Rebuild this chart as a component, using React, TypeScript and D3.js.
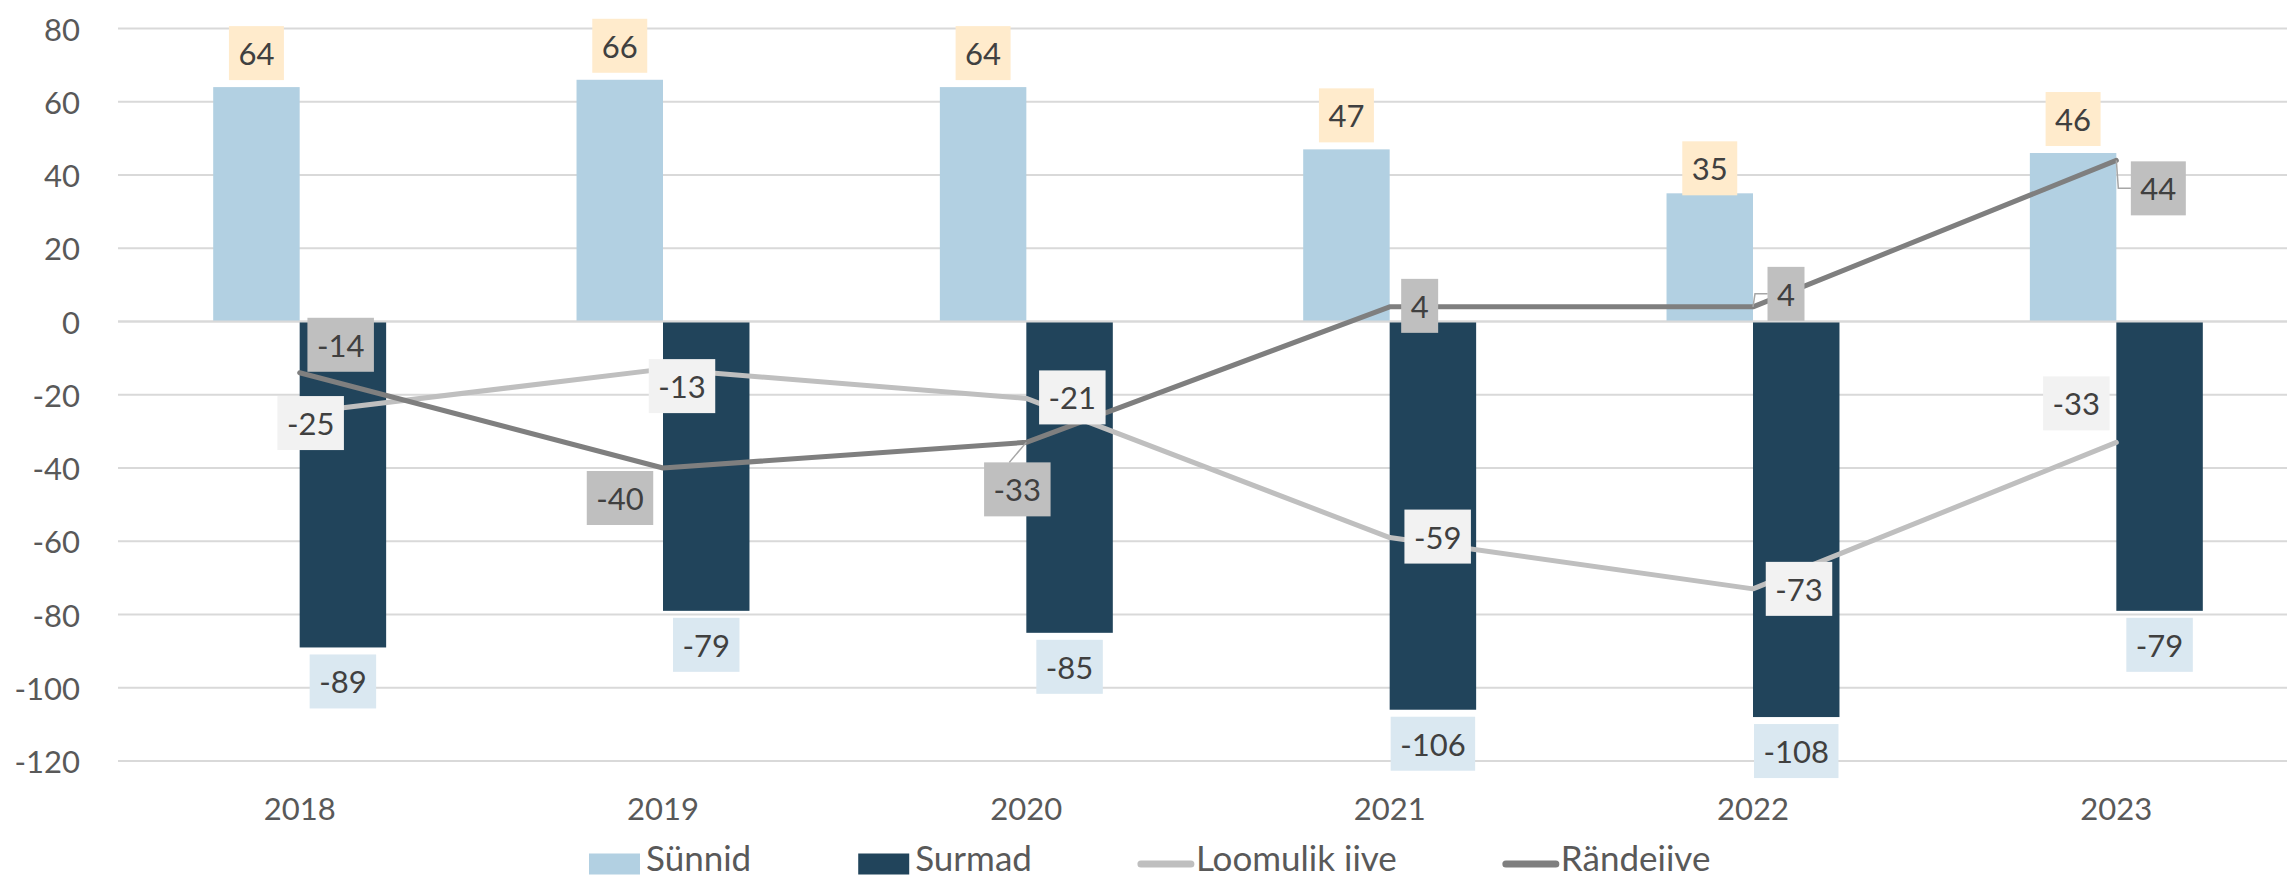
import React, { useEffect, useRef } from 'react';
import * as d3 from 'd3';

// Chart data
const years = ['2018', '2019', '2020', '2021', '2022', '2023'];
const births = [64, 66, 64, 47, 35, 46];
const deaths = [-89, -79, -85, -106, -108, -79];
const naturalChange = [-25, -13, -21, -59, -73, -33];
const migration = [-14, -40, -33, 4, 4, 44];
const yTicks = [80, 60, 40, 20, 0, -20, -40, -60, -80, -100, -120];

// Manual label nudges (box centre relative to the point), like in the original sheet
const birthsNudge = [0, 0, 0, 0, 9, 0];
const naturalOffset = [[11, 10], [19, 17], [46, -1], [48, -1], [46, 0], [-40, -39]];
const migrationOffset = [[41, -28], [-43, 30], [-9, 47], [30, -1], [33, -13], [42, 28]];
const migrationLeader = [false, false, true, false, true, true];

const W = 2287;
const H = 879;
const FONT = "Lato, 'Noto Sans', sans-serif";

const COLORS = {
  births: '#B2D0E2',
  deaths: '#21445B',
  natural: '#BFBFBF',
  migration: '#7F7F7F',
  birthsLabel: '#FFEBCC',
  deathsLabel: '#DAE8F1',
  naturalLabel: '#F2F2F2',
  migrationLabel: '#BFBFBF',
  grid: '#D9D9D9',
  text: '#404040',
  axisText: '#595959',
};

export default function App() {
  const svgRef = useRef<SVGSVGElement>(null);

  useEffect(() => {
    if (!svgRef.current) return;
    const svg = d3.select(svgRef.current);
    svg.selectAll('*').remove();

    const x = d3.scaleBand<string>().domain(years).range([118, 2298]);
    const y = d3.scaleLinear().domain([-120, 80]).range([761, 28.5]);
    const barW = x.bandwidth() * 0.238;
    const cx = (yr: string) => (x(yr) as number) + x.bandwidth() / 2;

    // gridlines
    svg.append('g')
      .selectAll('line')
      .data(yTicks)
      .join('line')
      .attr('x1', 118)
      .attr('x2', W)
      .attr('y1', d => y(d))
      .attr('y2', d => y(d))
      .attr('stroke', COLORS.grid)
      .attr('stroke-width', 2);

    // y tick labels
    svg.append('g')
      .selectAll('text')
      .data(yTicks)
      .join('text')
      .attr('x', 80)
      .attr('y', d => y(d))
      .attr('text-anchor', 'end')
      .attr('dominant-baseline', 'central')
      .attr('font-family', FONT)
      .attr('font-size', 31)
      .attr('fill', COLORS.axisText)
      .text(d => d);

    // x labels
    svg.append('g')
      .selectAll('text')
      .data(years)
      .join('text')
      .attr('x', d => cx(d))
      .attr('y', 808)
      .attr('text-anchor', 'middle')
      .attr('dominant-baseline', 'central')
      .attr('font-family', FONT)
      .attr('font-size', 31)
      .attr('fill', COLORS.axisText)
      .text(d => d);

    // bars
    svg.append('g')
      .selectAll('rect')
      .data(births)
      .join('rect')
      .attr('x', (d, i) => cx(years[i]) - barW)
      .attr('y', d => y(d))
      .attr('width', barW)
      .attr('height', d => y(0) - y(d))
      .attr('fill', COLORS.births);

    svg.append('g')
      .selectAll('rect')
      .data(deaths)
      .join('rect')
      .attr('x', (d, i) => cx(years[i]))
      .attr('y', y(0))
      .attr('width', barW)
      .attr('height', d => y(d) - y(0))
      .attr('fill', COLORS.deaths);

    // zero axis line
    svg.append('line')
      .attr('x1', 118)
      .attr('x2', W)
      .attr('y1', y(0))
      .attr('y2', y(0))
      .attr('stroke', COLORS.grid)
      .attr('stroke-width', 2);

    // lines
    const line = d3.line<number>()
      .x((d, i) => cx(years[i]))
      .y(d => y(d));

    svg.append('path')
      .datum(naturalChange)
      .attr('d', line)
      .attr('fill', 'none')
      .attr('stroke', COLORS.natural)
      .attr('stroke-width', 5)
      .attr('stroke-linejoin', 'round')
      .attr('stroke-linecap', 'round');

    svg.append('path')
      .datum(migration)
      .attr('d', line)
      .attr('fill', 'none')
      .attr('stroke', COLORS.migration)
      .attr('stroke-width', 5)
      .attr('stroke-linejoin', 'round')
      .attr('stroke-linecap', 'round');

    // label helper: box centred at (bx, by)
    const labels = svg.append('g');
    const addLabel = (bx: number, by: number, value: number, fill: string) => {
      const g = labels.append('g');
      const rect = g.append('rect').attr('fill', fill);
      const t = g.append('text')
        .attr('x', bx)
        .attr('y', by)
        .attr('text-anchor', 'middle')
        .attr('dominant-baseline', 'central')
        .attr('font-family', FONT)
        .attr('font-size', 31)
        .attr('fill', COLORS.text)
        .text(value);
      const tw = (t.node() as SVGTextElement).getComputedTextLength();
      const bw = tw + 19;
      const bh = 54;
      rect.attr('x', bx - bw / 2).attr('y', by - bh / 2).attr('width', bw).attr('height', bh);
      return { w: bw, h: bh };
    };

    // leader lines for nudged migration labels
    const leaders = svg.append('g');

    births.forEach((v, i) => {
      addLabel(cx(years[i]) - barW / 2, y(v) - 7 - 27 + birthsNudge[i], v, COLORS.birthsLabel);
    });
    deaths.forEach((v, i) => {
      addLabel(cx(years[i]) + barW / 2, y(v) + 7 + 27, v, COLORS.deathsLabel);
    });
    naturalChange.forEach((v, i) => {
      const [dx, dy] = naturalOffset[i];
      addLabel(cx(years[i]) + dx, y(v) + dy, v, COLORS.naturalLabel);
    });
    migration.forEach((v, i) => {
      const [dx, dy] = migrationOffset[i];
      const px = cx(years[i]);
      const py = y(v);
      const bx = px + dx;
      const by = py + dy;
      const box = addLabel(bx, by, v, COLORS.migrationLabel);
      if (migrationLeader[i]) {
        let d: string;
        if (Math.abs(dx) < box.w / 2) {
          d = `M${px},${py} L${bx - 8},${by - box.h / 2}`;
        } else {
          const edge = dx > 0 ? bx - box.w / 2 : bx + box.w / 2;
          d = `M${px},${py} L${px + 2},${by} L${edge},${by}`;
        }
        leaders.append('path')
          .attr('d', d)
          .attr('fill', 'none')
          .attr('stroke', '#A6A6A6')
          .attr('stroke-width', 1.5);
      }
    });

    // legend
    const legendItems = [
      { name: 'Sünnid', type: 'box', color: COLORS.births },
      { name: 'Surmad', type: 'box', color: COLORS.deaths },
      { name: 'Loomulik iive', type: 'line', color: COLORS.natural },
      { name: 'Rändeiive', type: 'line', color: COLORS.migration },
    ];
    const legend = svg.append('g');
    const ly = 864;
    let lx = 589;
    legendItems.forEach(item => {
      if (item.type === 'box') {
        legend.append('rect')
          .attr('x', lx).attr('y', ly - 10.5)
          .attr('width', 51).attr('height', 21)
          .attr('fill', item.color);
      } else {
        legend.append('line')
          .attr('x1', lx + 2).attr('x2', lx + 52)
          .attr('y1', ly).attr('y2', ly)
          .attr('stroke', item.color)
          .attr('stroke-width', 7)
          .attr('stroke-linecap', 'round');
      }
      const t = legend.append('text')
        .attr('x', lx + 57)
        .attr('y', 871)
        .attr('font-family', FONT)
        .attr('font-size', 35)
        .attr('fill', COLORS.axisText)
        .text(item.name);
      const tw = (t.node() as SVGTextElement).getComputedTextLength();
      lx += 57 + tw + 107;
    });
  }, []);

  return (
    <svg
      ref={svgRef}
      width={W}
      height={H}
      style={{ position: 'absolute', left: 0, top: 0, background: '#fff' }}
    />
  );
}
